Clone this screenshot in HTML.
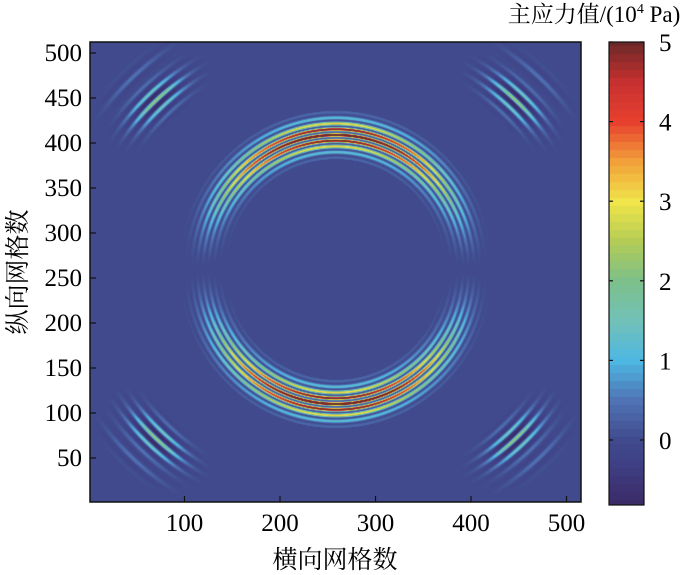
<!DOCTYPE html>
<html><head><meta charset="utf-8"><style>
body{margin:0;background:#fff;width:700px;height:575px;overflow:hidden;font-family:"Liberation Serif","Noto Serif CJK SC",serif;}
</style></head><body>
<svg width="700" height="575" style="position:absolute;left:0;top:0">
<foreignObject x="90" y="42" width="491" height="460"><canvas id="heat" width="491" height="460"></canvas></foreignObject>
<foreignObject x="609" y="42" width="35" height="463"><canvas id="cbar" width="35" height="463"></canvas></foreignObject>
<g id="axes"></g>
<text x="594" y="22" font-size="23" text-anchor="middle" font-family="Liberation Serif, Noto Serif CJK SC, serif">主应力值/(10<tspan font-size="14" dy="-9">4</tspan><tspan dy="9"> Pa)</tspan></text>
<text x="335" y="568" font-size="25" text-anchor="middle" font-family="Liberation Serif, Noto Serif CJK SC, serif">横向网格数</text>
<text transform="translate(26,272) rotate(-90)" font-size="25" text-anchor="middle" font-family="Liberation Serif, Noto Serif CJK SC, serif">纵向网格数</text>
</svg>
<script>
const xTicks=[100,200,300,400,500];
const yTicks=[50,100,150,200,250,300,350,400,450,500];
const cTicks=[0,1,2,3,4,5];
// rings: centerX, centerY, radius, halfWidth, amplitude, wavelength, angularMode
const ringCX=[258,258,258];
const ringCY=[260,260,262];
const ringR=[139,266,300];
const ringHW=[10,11,6];
const ringAmp=[6.3,2.3,0.5];
const ringWave=[6,10,12];
const ringMode=[0,1,1];
const cStops=[-0.82,-0.3,0,0.5,1,1.5,2,2.5,3,3.5,4,4.5,5];
const cColors=["#3b2a66","#3f3f85","#404a8c","#4f73b5","#4db7e2","#72c1b8","#7dc08a","#b4cc55","#f0e54a","#f2a03a","#e8402f","#c63030","#6b2828"];
const X=v=>89+v*0.955, Y=v=>503-v*0.9, C=v=>440-v*79.6;
function hex(h){return [1,3,5].map(i=>parseInt(h.substr(i,2),16));}
function cmap(v){
 if(v<=cStops[0])return hex(cColors[0]);
 for(let i=1;i<cStops.length;i++){if(v<=cStops[i]){const t=(v-cStops[i-1])/(cStops[i]-cStops[i-1]);const a=hex(cColors[i-1]),b=hex(cColors[i]);return a.map((x,k)=>x+(b[k]-x)*t);}}
 return hex(cColors[cColors.length-1]);
}
function val(u,v){
 let s=0;
 for(let i=0;i<ringR.length;i++){
  const dx=u-ringCX[i],dy=(v-ringCY[i])*(i==0?0.93:1);const d=Math.hypot(dx,dy);const e=d-ringR[i];
  if(Math.abs(e)>ringHW[i]*2.5)continue;
  const env=Math.exp(-(e*e)/(2*ringHW[i]*ringHW[i]));
  const th=Math.atan2(dy,dx);
  let ang=ringMode[i]==0?Math.pow(Math.abs(Math.sin(th)),1.6):Math.pow(Math.abs(Math.sin(2*th)),30);
  const osc=ringMode[i]==0?Math.pow(Math.cos(Math.PI*e/ringWave[i]),2):Math.cos(2*Math.PI*e/ringWave[i]);
  s+=ringAmp[i]*env*ang*osc*(ringMode[i]==1&&osc<0?0.4:1);
 }
 return s;
}
const hc=document.getElementById('heat'),hx=hc.getContext('2d'),im=hx.createImageData(491,460);
for(let py=0;py<460;py++)for(let px=0;px<491;px++){
 const u=(px+90-89)/0.955,v=(503-(py+42))/0.9;const c=cmap(val(u,v));const o=(py*491+px)*4;
 im.data[o]=c[0];im.data[o+1]=c[1];im.data[o+2]=c[2];im.data[o+3]=255;}
hx.putImageData(im,0,0);
const cc=document.getElementById('cbar'),cx=cc.getContext('2d');
for(let py=0;py<463;py++){const v=(440-(py+42))/79.6;const q=Math.round(v*10)/10;const c=cmap(q);cx.fillStyle=`rgb(${c.map(Math.round).join(',')})`;cx.fillRect(0,py,35,1);}
const g=document.getElementById('axes');const NS="http://www.w3.org/2000/svg";
function el(t,a){const e=document.createElementNS(NS,t);for(const k in a)e.setAttribute(k,a[k]);g.appendChild(e);return e;}
let r=el('rect',{x:90,y:42,width:491,height:460,fill:'none',stroke:'#111','stroke-width':1.5});


r=el('rect',{x:609,y:42,width:35,height:463,fill:'none',stroke:'#111','stroke-width':1.2});


xTicks.forEach(t=>{const x=X(t);el('line',{x1:x,x2:x,y1:502,y2:496,stroke:'#111','stroke-width':1.2});
 const tx=el('text',{x:x,y:531,'font-size':25,'text-anchor':'middle'});tx.textContent=t;
 
 });
yTicks.forEach(t=>{const y=Y(t);el('line',{x1:90,x2:96,y1:y,y2:y,stroke:'#111','stroke-width':1.2});
 const tx=el('text',{x:82,y:y+8,'font-size':25,'text-anchor':'end'});tx.textContent=t;
 
 });
cTicks.forEach(t=>{const y=C(t);el('line',{x1:609,x2:613,y1:y,y2:y,stroke:'#111','stroke-width':1.2});el('line',{x1:640,x2:644,y1:y,y2:y,stroke:'#111','stroke-width':1.2});
 const tx=el('text',{x:659,y:y+9,'font-size':25});tx.textContent=t;
 
 });
</script>
</body></html>
